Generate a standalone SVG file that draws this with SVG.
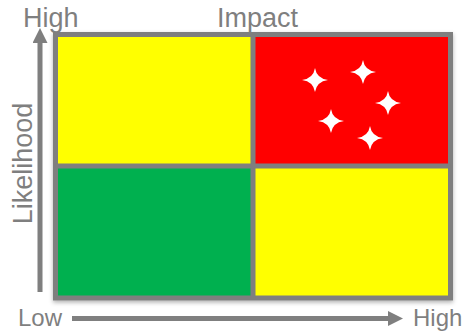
<svg xmlns="http://www.w3.org/2000/svg" width="465" height="334" viewBox="0 0 465 334">
<style>
.lbl{font-family:"Liberation Sans",Arial,sans-serif;fill:#7f7f7f}
.big{font-size:27px}
.small{font-size:24px}
.grid{fill:none;stroke:#7f7f7f;stroke-width:5}
.axis{stroke:#7f7f7f;stroke-width:5;fill:none}
.star{fill:#ffffff}
</style>
<defs>
<filter id="sh" x="-5%" y="-5%" width="110%" height="115%">
<feDropShadow dx="0" dy="2" stdDeviation="2" flood-color="#000" flood-opacity="0.3"/>
</filter>
<marker id="ah" viewBox="0 0 10 10" refX="0" refY="5" markerWidth="3" markerHeight="3" orient="auto" markerUnits="strokeWidth">
<path d="M0,0 L10,5 L0,10 Z" fill="#7f7f7f"/>
</marker>
<path id="st" d="M0,-12 Q1.6,-1.6 13,0 Q1.6,1.6 0,12 Q-1.6,1.6 -13,0 Q-1.6,-1.6 0,-12 Z"/>
</defs>
<g filter="url(#sh)">
<g id="q-top-left"><rect x="55.5" y="34.5" width="197.5" height="131.5" fill="#ffff00"/></g>
<g id="q-top-right"><rect x="253" y="34.5" width="197.5" height="131.5" fill="#ff0000"/>
<use href="#st" class="star" x="315" y="80"/>
<use href="#st" class="star" x="363" y="72"/>
<use href="#st" class="star" x="388" y="103"/>
<use href="#st" class="star" x="331" y="121"/>
<use href="#st" class="star" x="370" y="138"/>
</g>
<g id="q-bottom-left"><rect x="55.5" y="166" width="197.5" height="132" fill="#00b050"/></g>
<g id="q-bottom-right"><rect x="253" y="166" width="197.5" height="132" fill="#ffff00"/></g>
<g id="frame">
<rect class="grid" x="55.5" y="34.5" width="395" height="263.5"/>
<line class="grid" x1="253" y1="34.5" x2="253" y2="298"/>
<line class="grid" x1="55.5" y1="166" x2="450.5" y2="166"/>
</g>
</g>
<g id="connectors">
<line class="axis" x1="40" y1="292" x2="40" y2="43" marker-end="url(#ah)"/>
<line class="axis" x1="72" y1="318.5" x2="388" y2="318.5" marker-end="url(#ah)"/>
</g>
<g id="labels">
<text class="lbl big" x="23" y="27">High</text>
<text class="lbl big" x="217" y="27">Impact</text>
<text class="lbl big" transform="translate(32,163.5) rotate(-90)" text-anchor="middle">Likelihood</text>
<text class="lbl small" x="18" y="326">Low</text>
<text class="lbl small" x="413" y="326">High</text>
</g>
</svg>
